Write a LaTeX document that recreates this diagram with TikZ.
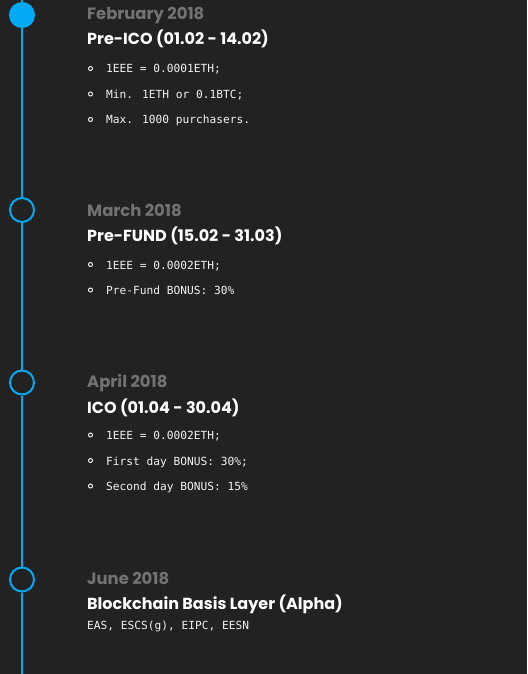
\documentclass[tikz,border=0pt]{standalone}
\usepackage{fontspec}
\setmainfont{Poppins}
\newfontfamily\itemfont{DejaVu Sans Mono}
\definecolor{bgc}{HTML}{222222}
\definecolor{tlblue}{HTML}{03A9F4}
\definecolor{dategray}{HTML}{727272}
\definecolor{itemc}{HTML}{F2F2F2}
\begin{document}
\begin{tikzpicture}[x=1pt,y=-1pt,
  tl/.style={draw=tlblue, line width=2pt},
  dot/.style={circle, draw=tlblue, line width=2pt, minimum size=24pt, inner sep=0pt, fill=bgc},
  dotactive/.style={dot, fill=tlblue},
  datelbl/.style={anchor=base west, inner sep=0pt, text=dategray, font=\bfseries\fontsize{16.4}{18}\selectfont},
  titlelbl/.style={anchor=base west, inner sep=0pt, text=white, font=\bfseries\fontsize{16}{18}\selectfont},
  itemlbl/.style={anchor=base west, inner sep=0pt, text=itemc, font=\itemfont\fontsize{11.2}{13}\selectfont},
  bul/.style={circle, draw=itemc, line width=1pt, minimum size=4pt, inner sep=0pt}
]
\fill[bgc] (0,0) rectangle (527,674);
\useasboundingbox (0,0) rectangle (527,674);

\coordinate (top) at (22,0);
\coordinate (bot) at (22,674);
\node[dotactive] (c1) at (22,15) {};
\node[dot] (c2) at (22,210) {};
\node[dot] (c3) at (22,382.5) {};
\node[dot] (c4) at (22,579.5) {};
\draw[tl] (top) -- (c1);
\draw[tl] (c1) -- (c2);
\draw[tl] (c2) -- (c3);
\draw[tl] (c3) -- (c4);
\draw[tl] (c4) -- (bot);

% section 1
\node[datelbl] (d1) at (87,19.5) {February 2018};
\node[titlelbl] (t1) at (87,45) {Pre-ICO (01.02 - 14.02)};
\node[bul] (b11) at (90.5,68.5) {};
\node[itemlbl] (i11) at (106,73) {1EEE = 0.0001ETH;};
\node[bul] (b12) at (90.5,94) {};
\node[itemlbl] (i12) at (106,98.5) {Min. 1ETH or 0.1BTC;};
\node[bul] (b13) at (90.5,119.5) {};
\node[itemlbl] (i13) at (106,124) {Max. 1000 purchasers.};

% section 2
\node[datelbl] (d2) at (87,216) {March 2018};
\node[titlelbl] (t2) at (87,241) {Pre-FUND (15.02 - 31.03)};
\node[bul] (b21) at (90.5,264.5) {};
\node[itemlbl] (i21) at (106,269) {1EEE = 0.0002ETH;};
\node[bul] (b22) at (90.5,290) {};
\node[itemlbl] (i22) at (106,294.5) {Pre-Fund BONUS: 30\%};

% section 3
\node[datelbl] (d3) at (87,387.5) {April 2018};
\node[titlelbl] (t3) at (87,413) {ICO (01.04 - 30.04)};
\node[bul] (b31) at (90.5,435) {};
\node[itemlbl] (i31) at (106,439.5) {1EEE = 0.0002ETH;};
\node[bul] (b32) at (90.5,460.5) {};
\node[itemlbl] (i32) at (106,465) {First day BONUS: 30\%;};
\node[bul] (b33) at (90.5,486) {};
\node[itemlbl] (i33) at (106,490.5) {Second day BONUS: 15\%};

% section 4
\node[datelbl] (d4) at (87,584) {June 2018};
\node[titlelbl] (t4) at (87,609) {Blockchain Basis Layer (Alpha)};
\node[itemlbl] (i41) at (87,629) {EAS, ESCS(g), EIPC, EESN};
\end{tikzpicture}
\end{document}
